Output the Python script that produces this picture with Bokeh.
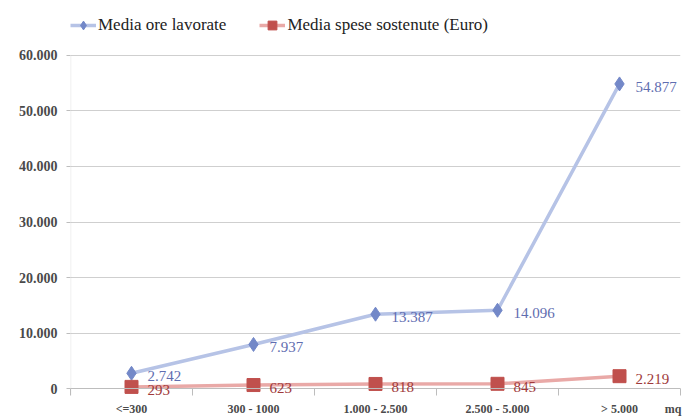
from bokeh.plotting import figure
from bokeh.models import (ColumnDataSource, Range1d, FixedTicker, LabelSet, Legend,
                          LegendItem, Span, BoxAnnotation)
from bokeh.embed import file_html
from bokeh.resources import INLINE

categories = ["<=300", "300 - 1000", "1.000 - 2.500", "2.500 - 5.000", "> 5.000"]
ore = [2742, 7937, 13387, 14096, 54877]
spese = [293, 623, 818, 845, 2219]
y_ticks = [0, 10000, 20000, 30000, 40000, 50000, 60000]
series_names = ["Media ore lavorate", "Media spese sostenute (Euro)"]
unit_label = "mq"
unit_pos = 4.44


def it_fmt(v):
    return f"{v:,}".replace(",", ".")


xs = list(range(len(categories)))
src_ore = ColumnDataSource(dict(x=xs, y=ore, t=[it_fmt(v) for v in ore]))
src_spese = ColumnDataSource(dict(x=xs, y=spese, t=[it_fmt(v) for v in spese]))

FONT = "Liberation Serif"
BLUE_LINE = "#b6c3e6"
BLUE_MARK = "#7388c8"
BLUE_TEXT = "#5f6db0"
RED_LINE = "#e9a9a7"
RED_MARK = "#c0504d"
RED_TEXT = "#a0393a"
AXIS_GRAY = "#bdbdbd"

x_start, x_end = -0.5, len(categories) - 0.5
y_start, y_end = -1261, 69189

p = figure(width=684, height=419, output_backend="svg", toolbar_location=None,
           x_range=Range1d(x_start, x_end), y_range=Range1d(y_start, y_end),
           min_border_left=70, min_border_right=4, min_border_top=4,
           min_border_bottom=24)
p.outline_line_color = None
p.background_fill_color = "white"
p.border_fill_color = "white"

# grid
p.xgrid.grid_line_color = None
p.ygrid.ticker = FixedTicker(ticks=y_ticks)
p.ygrid.grid_line_color = "#cfcfcf"
p.ygrid.grid_line_width = 1

# y axis (line drawn only over the tick span)
p.yaxis.ticker = FixedTicker(ticks=y_ticks)
p.yaxis.major_label_overrides = {t: it_fmt(t) for t in y_ticks}
p.yaxis.axis_line_color = None
p.yaxis.major_tick_line_color = AXIS_GRAY
p.yaxis.major_tick_out = 4
p.yaxis.major_tick_in = 0
p.yaxis.minor_tick_line_color = None
p.yaxis.major_label_standoff = 9
p.yaxis.major_label_text_font = FONT
p.yaxis.major_label_text_font_size = "14px"
p.yaxis.major_label_text_font_style = "bold"
p.yaxis.major_label_text_color = "#4a4a4a"
p.add_layout(BoxAnnotation(left=x_start, right=x_start, bottom=y_start, top=max(y_ticks),
                           fill_alpha=0, line_color=AXIS_GRAY, line_width=1.5))

# x axis
overrides = {i: c for i, c in zip(xs, categories)}
overrides[unit_pos] = unit_label
p.xaxis.ticker = FixedTicker(ticks=xs + [unit_pos],
                             minor_ticks=[i - 0.5 for i in range(len(categories) + 1)])
p.xaxis.major_label_overrides = overrides
p.xaxis.axis_line_color = None
p.xaxis.major_tick_line_color = None
p.xaxis.minor_tick_line_color = AXIS_GRAY
p.xaxis.minor_tick_in = 7
p.xaxis.minor_tick_out = 0
p.xaxis.major_label_standoff = 0
p.xaxis.major_label_text_font = FONT
p.xaxis.major_label_text_font_size = "12px"
p.xaxis.major_label_text_font_style = "bold"
p.xaxis.major_label_text_color = "#4a4a4a"

p.add_layout(Span(location=0, dimension="width", line_color=AXIS_GRAY, line_width=1))

# series
l1 = p.line("x", "y", source=src_ore, line_color=BLUE_LINE, line_width=3.5)
m1 = p.scatter("x", "y", source=src_ore, marker="diamond", size=14,
               fill_color=BLUE_MARK, line_color=BLUE_MARK)
l2 = p.line("x", "y", source=src_spese, line_color=RED_LINE, line_width=3.5)
m2 = p.scatter("x", "y", source=src_spese, marker="square", size=13,
               fill_color=RED_MARK, line_color=RED_MARK)

for src, col in ((src_ore, BLUE_TEXT), (src_spese, RED_TEXT)):
    p.add_layout(LabelSet(x="x", y="y", text="t", source=src, x_offset=16, y_offset=-3,
                          text_font=FONT, text_font_size="15px", text_color=col,
                          text_baseline="middle", text_align="left"))

legend = Legend(items=[LegendItem(label=series_names[0], renderers=[l1, m1]),
                       LegendItem(label=series_names[1], renderers=[l2, m2])],
                orientation="horizontal", location=(0, 359),
                label_text_font=FONT, label_text_font_size="17px",
                label_text_color="#222222", glyph_width=26, glyph_height=22,
                label_height=22, label_standoff=2, spacing=33, padding=0, margin=0,
                border_line_color=None, background_fill_alpha=0)
p.add_layout(legend, "center")

open("out.html", "w").write(file_html(p, INLINE))
